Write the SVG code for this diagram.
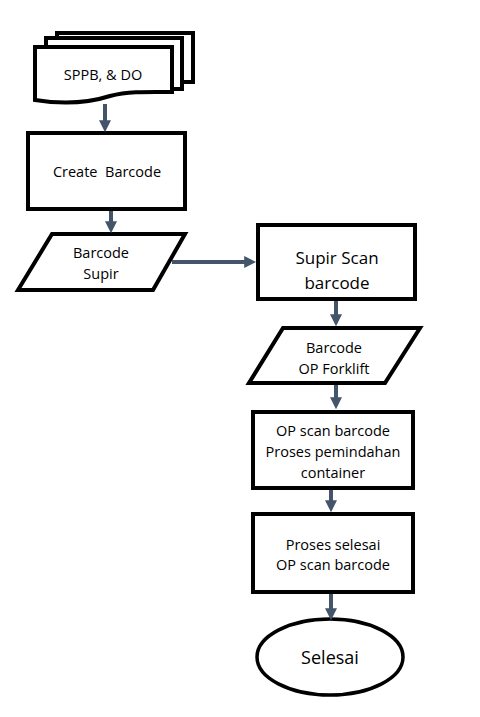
<svg xmlns="http://www.w3.org/2000/svg" width="480" height="717" viewBox="0 0 480 717">
<style>
.s{fill:#fff;stroke:#000;stroke-width:4;stroke-linejoin:miter}
.t{font-family:"Open Sans","Liberation Sans",sans-serif;font-size:14.5px;fill:#000;text-anchor:middle}
.c{stroke:#44546A;stroke-width:4;fill:none}
</style>
<defs>
<marker id="ah" markerWidth="3" markerHeight="3" refX="1.2" refY="1.5" orient="auto" markerUnits="strokeWidth">
<path d="M0,0 L3,1.5 L0,3 z" fill="#44546A"/>
</marker>
</defs>
<rect width="480" height="717" fill="#fff"/>
<g id="n1">
<path class="s" d="M57,33 H193 V82 H182 V38 H57 Z"/>
<path class="s" d="M46,38 H182 V89 H172 V47 H46 Z"/>
<path class="s" d="M35,47 H172 V92 C150,92 130,91 110,96 C85,104 60,104 35,100 Z"/>
<text class="t" x="103" y="80">SPPB, &amp; DO</text>
</g>
<g id="n2">
<rect class="s" x="28" y="133" width="157" height="76"/>
<text class="t" x="107" y="177" xml:space="preserve">Create  Barcode</text>
</g>
<g id="n3">
<path class="s" d="M52,234 H185 L153,290 H18 Z"/>
<text class="t" x="101" y="258">Barcode</text>
<text class="t" x="101" y="279">Supir</text>
</g>
<g id="n4">
<rect class="s" x="258" y="225" width="157" height="74"/>
<text class="t" x="337" y="264" style="font-size:17px">Supir Scan</text>
<text class="t" x="337" y="289" style="font-size:17px">barcode</text>
</g>
<g id="n5">
<path class="s" d="M283,328 H420 L385,383 H249 Z"/>
<text class="t" x="334" y="353">Barcode</text>
<text class="t" x="334" y="374">OP Forklift</text>
</g>
<g id="n6">
<rect class="s" x="253" y="412" width="160" height="76"/>
<text class="t" x="333" y="436">OP scan barcode</text>
<text class="t" x="333" y="457">Proses pemindahan</text>
<text class="t" x="333" y="478">container</text>
</g>
<g id="n7">
<rect class="s" x="253" y="514" width="160" height="78"/>
<text class="t" x="333" y="550">Proses selesai</text>
<text class="t" x="333" y="570">OP scan barcode</text>
</g>
<g id="n8">
<ellipse cx="330" cy="657" rx="73" ry="38" fill="#fff" stroke="#000" stroke-width="3.5"/>
<text class="t" x="330" y="664" style="font-size:18px">Selesai</text>
</g>
<g id="connectors">
<line class="c" x1="105" y1="104" x2="105" y2="125" marker-end="url(#ah)"/>
<line class="c" x1="111" y1="211" x2="111" y2="226" marker-end="url(#ah)"/>
<line class="c" x1="172" y1="262" x2="249" y2="262" marker-end="url(#ah)"/>
<line class="c" x1="336" y1="301" x2="336" y2="319" marker-end="url(#ah)"/>
<line class="c" x1="336" y1="385" x2="336" y2="402" marker-end="url(#ah)"/>
<line class="c" x1="331" y1="490" x2="331" y2="505" marker-end="url(#ah)"/>
<line class="c" x1="331" y1="594" x2="331" y2="613" marker-end="url(#ah)"/>
</g>
</svg>
